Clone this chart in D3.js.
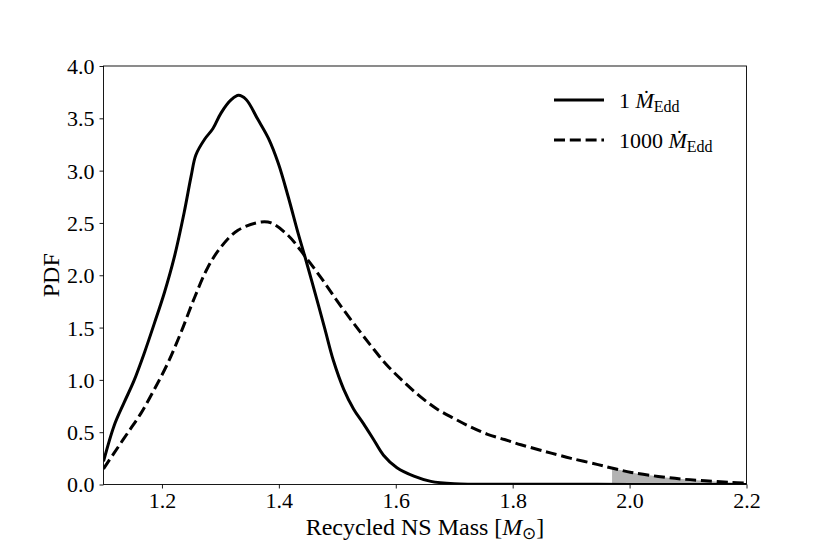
<!DOCTYPE html>
<html><head><meta charset="utf-8">
<script src="https://cdn.jsdelivr.net/npm/d3@7"></script>
<style>body{margin:0;background:#fff}svg{display:block}text{font-family:"Liberation Serif","Times New Roman",serif;fill:#000}</style>
</head><body><svg id="c" width="830" height="554"></svg>
<script>
const xTicks=[1.2,1.4,1.6,1.8,2.0,2.2];
const yTicks=[0,0.5,1,1.5,2,2.5,3,3.5,4];
const massLow=[1.10,1.118,1.135,1.152,1.170,1.187,1.204,1.221,1.238,1.250,1.258,1.273,1.287,1.301,1.319,1.331,1.344,1.364,1.382,1.399,1.416,1.433,1.445,1.462,1.479,1.493,1.511,1.528,1.545,1.562,1.579,1.602,1.631,1.660,1.70,1.80,1.90,2.00,2.10,2.20];
const pdfLow=[0.22,0.56,0.78,0.99,1.26,1.54,1.83,2.17,2.60,2.95,3.15,3.30,3.40,3.55,3.68,3.72,3.68,3.49,3.31,3.07,2.75,2.40,2.17,1.83,1.48,1.19,0.91,0.72,0.58,0.43,0.28,0.16,0.08,0.03,0.008,0.003,0.002,0.001,0.0005,0.0];
const massHigh=[1.10,1.118,1.141,1.164,1.187,1.210,1.233,1.256,1.278,1.301,1.330,1.370,1.387,1.416,1.445,1.473,1.499,1.528,1.557,1.585,1.614,1.642,1.671,1.700,1.728,1.757,1.786,1.814,1.846,1.866,1.900,1.946,1.975,2.003,2.049,2.089,2.129,2.175,2.20];
const pdfHigh=[0.15,0.30,0.49,0.68,0.91,1.16,1.46,1.79,2.07,2.27,2.43,2.51,2.50,2.38,2.18,1.97,1.76,1.54,1.33,1.14,0.98,0.84,0.72,0.63,0.55,0.48,0.43,0.38,0.33,0.30,0.25,0.19,0.15,0.115,0.077,0.052,0.036,0.02,0.013];
const shadeFrom=1.97;
const seriesLabels=["1","1000"];

const svg=d3.select("#c");
const L=103.5,R=746.5,T=66,B=484.5;
const x=d3.scaleLinear().domain([1.1,2.2]).range([L,R]);
const y=d3.scaleLinear().domain([0,4]).range([B,T]);
const low=massLow.map((m,i)=>({m,p:pdfLow[i]}));
const high=massHigh.map((m,i)=>({m,p:pdfHigh[i]}));

svg.append("defs").append("clipPath").attr("id","clip").append("rect")
  .attr("x",L).attr("y",T-2).attr("width",R-L).attr("height",B-T+2);
const g=svg.append("g").attr("clip-path","url(#clip)");

// shaded region under dashed curve
const i0=high.findIndex(d=>d.m>=shadeFrom);
const a=high[i0-1],b=high[i0];
const pStart=a.p+(b.p-a.p)*(shadeFrom-a.m)/(b.m-a.m);
const shade=[{m:shadeFrom,p:pStart}].concat(high.slice(i0));
g.append("path").datum(shade).attr("fill","#b3b3b3")
  .attr("d",d3.area().x(d=>x(d.m)).y0(y(0)).y1(d=>y(d.p)).curve(d3.curveMonotoneX));

const line=d3.line().x(d=>x(d.m)).y(d=>y(d.p)).curve(d3.curveCatmullRom.alpha(0.5));
g.append("path").datum(low).attr("fill","none").attr("stroke","#000").attr("stroke-width",3).attr("stroke-linejoin","round").attr("d",line);
g.append("path").datum(high).attr("fill","none").attr("stroke","#000").attr("stroke-width",3).attr("stroke-dasharray","11,4.8").attr("d",line);

// axes
const xa=svg.append("g").attr("transform",`translate(0,${B})`)
  .call(d3.axisBottom(x).tickValues(xTicks).tickFormat(d3.format(".1f")).tickSizeOuter(0).tickSize(4).tickPadding(4));
const ya=svg.append("g").attr("transform",`translate(${L},0)`)
  .call(d3.axisLeft(y).tickValues(yTicks).tickFormat(d3.format(".1f")).tickSizeOuter(0).tickSize(4).tickPadding(5));
[xa,ya].forEach(a=>{a.select(".domain").remove();a.selectAll("line").attr("stroke","#000").attr("stroke-width",0.9);
  a.selectAll("text").style("font-size","22px").style("font-family","'Liberation Serif',serif").attr("fill","#000");});
ya.selectAll("text").attr("dy","0.34em");
xa.selectAll("text").attr("dy","0.7em");
svg.append("rect").attr("x",L).attr("y",T).attr("width",R-L).attr("height",B-T)
  .attr("fill","none").attr("stroke","#000").attr("stroke-width",0.9);

// axis labels
const xl=svg.append("text").attr("x",(L+R)/2).attr("y",535).attr("text-anchor","middle").style("font-size","24px");
xl.append("tspan").text("Recycled NS Mass [");
xl.append("tspan").style("font-style","italic").text("M");
xl.append("tspan").attr("dy",4).style("font-size","17px").text("\u2299");
xl.append("tspan").attr("dy",-4).text("]");
svg.append("text").attr("transform",`translate(59,${(T+B)/2}) rotate(-90)`).attr("text-anchor","middle").style("font-size","24px").text("PDF");

// legend
const leg=[{y:100,dash:null,label:seriesLabels[0]},{y:140,dash:"11,4.8",label:seriesLabels[1]}];
leg.forEach(d=>{
  svg.append("line").attr("x1",554).attr("x2",604).attr("y1",d.y).attr("y2",d.y)
    .attr("stroke","#000").attr("stroke-width",3).attr("stroke-dasharray",d.dash);
  const t=svg.append("text").attr("x",619).attr("y",d.y+8).style("font-size","22px");
  t.append("tspan").text(d.label+" ");
  t.append("tspan").style("font-style","italic").text("M\u0307");
  t.append("tspan").attr("dy",4).style("font-size","16px").text("Edd");
});
</script></body></html>
